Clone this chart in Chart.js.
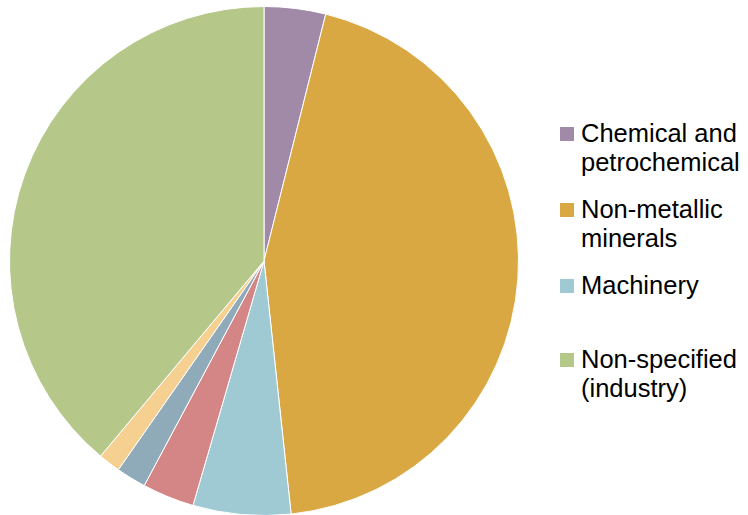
<!DOCTYPE html>
<html>
<head>
<meta charset="utf-8">
<script src="https://cdn.jsdelivr.net/npm/chart.js@4"></script>
<style>
  html, body { margin: 0; padding: 0; background: #fff; overflow: hidden; }
  #wrap { position: relative; width: 748px; height: 515px; }
  #pieBox { position: absolute; left: 0; top: 0; width: 528px; height: 522px; }
  #legend { position: absolute; left: 560px; top: 119px; font-family: "Liberation Sans", Arial, sans-serif; font-size: 25.5px; line-height: 29px; color: #000; white-space: nowrap; }
  .item { position: relative; padding-left: 21px; margin-bottom: 18px; }
  .item .box { position: absolute; left: 0; top: 8px; width: 14px; height: 14px; }
  .item.gap { margin-bottom: 45px; }
</style>
</head>
<body>
<div id="wrap">
  <div id="pieBox"><canvas id="pieChart"></canvas></div>
  <div id="legend"></div>
</div>
<script>
// industry shares (%), clockwise from 12 o'clock
const sectors = ['Chemical and petrochemical', 'Non-metallic minerals', 'Machinery', 'Iron and steel', 'Food and tobacco', 'Textile and leather', 'Non-specified (industry)'];
const shares = [3.9, 44.4, 6.2, 3.3, 1.9, 1.4, 38.9];
const colors = ['#A08AA8', '#D9A842', '#9FC9D3', '#D48686', '#8FAAB8', '#F5D091', '#B5C88A'];

// only these sectors get a legend entry, with their wrapped lines
const legendItems = [
    { idx: 0, lines: ['Chemical and', 'petrochemical'] },
    { idx: 1, lines: ['Non-metallic', 'minerals'] },
    { idx: 2, lines: ['Machinery'], gap: true },
    { idx: 6, lines: ['Non-specified', '(industry)'] }
];

const ctx = document.getElementById('pieChart').getContext('2d');
new Chart(ctx, {
    type: 'pie',
    data: {
        labels: sectors,
        datasets: [{
            data: shares,
            backgroundColor: colors,
            borderColor: '#fff',
            borderWidth: 1
        }]
    },
    options: {
        responsive: true,
        maintainAspectRatio: false,
        animation: false,
        layout: { padding: 6 },
        plugins: { legend: { display: false }, tooltip: { enabled: false } }
    }
});

const legend = document.getElementById('legend');
legendItems.forEach(item => {
    const div = document.createElement('div');
    div.className = 'item' + (item.gap ? ' gap' : '');
    div.innerHTML = `<span class="box" style="background:${colors[item.idx]}"></span>${item.lines.join('<br>')}`;
    legend.appendChild(div);
});
</script>
</body>
</html>
